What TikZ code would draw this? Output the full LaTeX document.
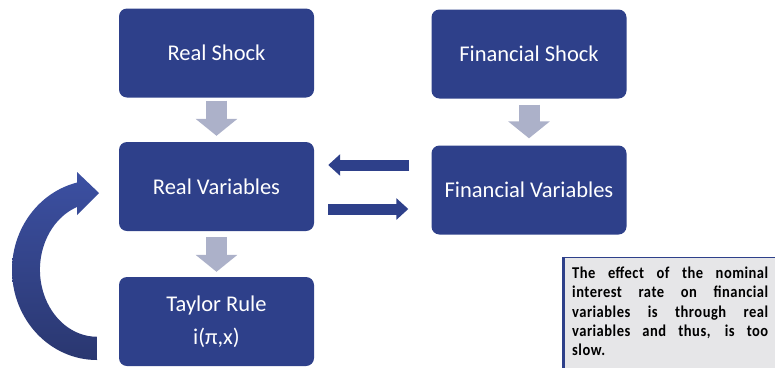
\documentclass[tikz,border=0pt]{standalone}
\usepackage{fontspec}
\setmainfont{Carlito}
\newfontfamily\notefont[FakeStretch=0.88,LetterSpace=3]{Carlito}
\usetikzlibrary{arrows.meta,calc}
\definecolor{boxblue}{RGB}{46,64,138}
\definecolor{arrgray}{RGB}{172,177,201}
\definecolor{notegray}{RGB}{230,230,232}
\definecolor{curvetop}{RGB}{60,80,162}
\definecolor{curvebot}{RGB}{42,55,112}
\tikzset{
  bluebox/.style={fill=boxblue, rounded corners=8pt, minimum width=195pt, minimum height=89pt,
    inner sep=0pt, text=white, font=\fontsize{22.5}{33}\selectfont, align=center},
  grayarrow/.style={draw=arrgray, line width=21pt, -{Triangle[width=41pt,length=17pt]}},
  bluearrow/.style={draw=boxblue, line width=11pt, -{Triangle[width=21pt,length=12pt]}},
}
\begin{document}
\begin{tikzpicture}[x=1pt,y=-1pt]
\useasboundingbox (0,0) rectangle (775,367);
\node[bluebox] (rshock) at (216.5,53) {Real Shock};
\node[bluebox] (fshock) at (529,54) {Financial Shock};
\node[bluebox] (rvar) at (216.5,186.5) {Real Variables};
\node[bluebox] (fvar) at (529,190) {Financial Variables};
\node[bluebox] (taylor) at (216.5,321.5) {Taylor Rule\\i(π,x)};
% gray block arrows
\draw[grayarrow] ([yshift=-3pt]rshock.south) -- ([yshift=6pt]rvar.north);
\draw[grayarrow] ([yshift=-6pt]fshock.south) -- ([yshift=7pt]fvar.north);
\draw[grayarrow] ([yshift=-6pt]rvar.south) -- ([yshift=5pt]taylor.north);
% blue horizontal arrows
\draw[bluearrow] ([xshift=-22pt]fvar.west |- 0,165) -- ([xshift=14pt]rvar.east |- 0,165);
\draw[bluearrow] ([xshift=14pt]rvar.east |- 0,209) -- ([xshift=-23pt]fvar.west |- 0,209);
% curved feedback arrow
\shade[top color=curvetop, bottom color=curvebot]
  (97,360) arc[start angle=270, end angle=103.6, x radius=85pt, y radius=90pt]
  -- (77,172) -- (99,193) -- (77,215) -- (77,207)
  arc[start angle=110.5, end angle=270, x radius=57pt, y radius=67pt] -- cycle;
% note
\fill[notegray] (563.5,257.5) rectangle (790,380);
\draw[boxblue, line width=1.5pt] (563.5,257.5) -- (790,257.5);
\draw[boxblue, line width=3.5pt] (563.5,256.75) -- (563.5,380);
\node[anchor=north west, text width=196pt, align=justify, inner sep=0pt,
  font=\notefont\bfseries\fontsize{16.5}{19.4}\selectfont] (note) at (572,266.5)
  {The effect of the nominal\linebreak interest rate on financial\linebreak variables is through real\linebreak variables and thus, is too\linebreak slow.};
\end{tikzpicture}
\end{document}
